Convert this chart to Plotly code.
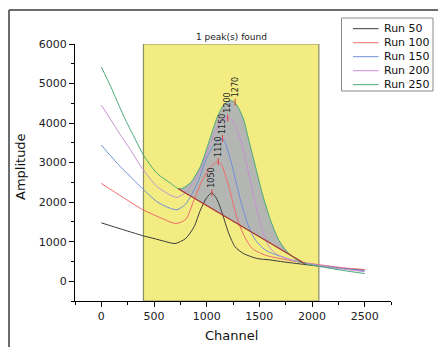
import plotly.graph_objects as go

# ---------------- data ----------------
run_names = ["Run 50", "Run 100", "Run 150", "Run 200", "Run 250"]

run50_x = [0, 100, 200, 300, 400, 500, 600, 700, 800, 880, 940, 1000, 1050, 1100, 1150, 1210, 1270, 1350, 1480, 1600, 1730, 1850, 1990, 2150, 2300, 2500]
run50_y = [1476, 1393, 1310, 1228, 1147, 1080, 1010, 954, 1080, 1375, 1797, 2110, 2236, 2060, 1700, 1207, 869, 700, 574, 540, 489, 450, 405, 360, 320, 285]

run100_x = [0, 200, 400, 550, 705, 800, 879, 958, 1037, 1080, 1110, 1140, 1175, 1211, 1259, 1306, 1369, 1433, 1559, 1780, 1950, 2150, 2300, 2500]
run100_y = [2473, 2130, 1800, 1620, 1460, 1560, 2050, 2557, 2894, 2990, 3025, 2960, 2700, 2388, 1881, 1460, 1080, 827, 658, 532, 460, 390, 340, 295]

run150_x = [0, 152, 278, 389, 531, 658, 720, 800, 911, 1005, 1084, 1150, 1227, 1290, 1338, 1400, 1464, 1559, 1717, 1900, 2100, 2300, 2500]
run150_y = [3443, 2980, 2640, 2347, 2008, 1840, 1810, 1950, 2473, 3147, 3500, 3610, 3063, 2388, 1881, 1375, 1038, 785, 615, 470, 390, 320, 265]

run200_x = [0, 152, 278, 389, 531, 658, 720, 800, 900, 1037, 1132, 1200, 1243, 1322, 1385, 1448, 1511, 1575, 1654, 1812, 2000, 2200, 2500]
run200_y = [4456, 3823, 3316, 2853, 2388, 2177, 2120, 2250, 2600, 3486, 4040, 4130, 4076, 3570, 2894, 2134, 1460, 954, 700, 532, 430, 340, 240]

run250_x = [0, 90, 215, 310, 400, 530, 660, 730, 770, 850, 942, 1000, 1068, 1100, 1150, 1200, 1240, 1280, 1320, 1353, 1400, 1464, 1528, 1606, 1685, 1765, 1860, 1930, 2100, 2300, 2500]
run250_y = [5420, 4919, 4160, 3653, 3190, 2726, 2473, 2340, 2350, 2500, 2911, 3350, 3906, 4150, 4413, 4545, 4565, 4480, 4290, 4076, 3570, 2894, 2220, 1544, 1038, 742, 532, 450, 360, 270, 195]

run_colors = ["#3a3a3a", "#f06a6a", "#6f8fd8", "#c892d2", "#4aaa78"]

baseline_x = [730, 1930]
baseline_y = [2340, 450]

peak_x = [1050, 1110, 1150, 1200, 1270]
peak_y = [2236, 3025, 3610, 4130, 4530]
peak_labels = ["1050", "1110", "1150", "1200", "1270"]

roi_x = [400, 2065]
x_range = [-250, 2750]
y_range = [-500, 6000]
title_text = "1 peak(s) found"
x_title = "Channel"
y_title = "Amplitude"

series_x = [run50_x, run100_x, run150_x, run200_x, run250_x]
series_y = [run50_y, run100_y, run150_y, run200_y, run250_y]

FONT = "DejaVu Sans"

# plot-area geometry (pixels) used for converting layout positions
L, R, T, B = 75, 391, 44, 301
W, H = R - L, B - T


def xp(px):
    return (px - L) / W


def yp(py):
    return (B - py) / H


fig = go.Figure()

# gray integrated area between Run 250 and baseline
gx, gy = [], []
for xv, yv in zip(run250_x, run250_y):
    if baseline_x[0] < xv < baseline_x[1]:
        gx.append(xv)
        gy.append(yv)
gx = [baseline_x[0]] + gx + [baseline_x[1]]
gy = [baseline_y[0]] + gy + [baseline_y[1]]
poly_x = gx + baseline_x[::-1]
poly_y = gy + baseline_y[::-1]
fig.add_trace(go.Scatter(x=poly_x, y=poly_y, mode="lines", fill="toself",
                         fillcolor="#b4b6b4", line=dict(width=0),
                         showlegend=False, hoverinfo="skip"))

for name, xs, ys, c in zip(run_names, series_x, series_y, run_colors):
    fig.add_trace(go.Scatter(x=xs, y=ys, mode="lines", name=name, showlegend=False,
                             line=dict(color=c, width=1, shape="spline", smoothing=0.7)))

fig.add_trace(go.Scatter(x=baseline_x, y=baseline_y, mode="lines",
                         line=dict(color="#a83232", width=1.2), showlegend=False))

fig.add_trace(go.Scatter(x=peak_x, y=peak_y, mode="markers", showlegend=False,
                         marker=dict(symbol="line-ns", size=5, line=dict(color="#e03c3c", width=1))))

for px_, py_, lab in zip(peak_x, peak_y, peak_labels):
    fig.add_annotation(x=px_, y=py_, text=lab, textangle=-90, showarrow=False,
                       xanchor="center", yanchor="bottom", yshift=3,
                       font=dict(family=FONT, size=8, color="#222"))

# yellow ROI
fig.add_shape(type="rect", xref="x", yref="y", x0=roi_x[0], x1=roi_x[1],
              y0=y_range[0], y1=y_range[1], fillcolor="#f2ec82",
              line=dict(color="#8e8c62", width=1.2), layer="below")

fig.add_annotation(x=(roi_x[0] + roi_x[1]) / 2, y=y_range[1], text=title_text,
                   showarrow=False, xanchor="center", yanchor="bottom", yshift=0,
                   font=dict(family=FONT, size=9, color="#222"))

# axis titles
fig.add_annotation(xref="paper", yref="paper", x=xp(20), y=yp(166), text=y_title,
                   textangle=-90, showarrow=False, xanchor="center", yanchor="middle",
                   font=dict(family=FONT, size=13, color="#111"))
fig.add_annotation(xref="paper", yref="paper", x=xp(231), y=yp(335), text=x_title,
                   showarrow=False, xanchor="center", yanchor="middle",
                   font=dict(family=FONT, size=13, color="#111"))

# page frame
fig.add_shape(type="line", xref="paper", yref="paper", x0=xp(9), x1=xp(440), y0=yp(10), y1=yp(10),
              line=dict(color="#3c3c3c", width=1.5))
fig.add_shape(type="line", xref="paper", yref="paper", x0=xp(9), x1=xp(9), y0=yp(10), y1=yp(350),
              line=dict(color="#3c3c3c", width=1.5))

# legend box (drawn manually)
fig.add_shape(type="rect", xref="paper", yref="paper", x0=xp(341.5), x1=xp(433), y0=yp(91), y1=yp(18),
              fillcolor="white", line=dict(color="#8a8a8a", width=1))
for i, (name, c) in enumerate(zip(run_names, run_colors)):
    cy = 28.7 + 14 * i
    fig.add_shape(type="line", xref="paper", yref="paper", x0=xp(353), x1=xp(378.5),
                  y0=yp(cy), y1=yp(cy), line=dict(color=c, width=1))
    fig.add_annotation(xref="paper", yref="paper", x=xp(382), y=yp(cy), text=name,
                       xanchor="left", yanchor="middle", showarrow=False,
                       font=dict(family=FONT, size=11, color="#111"))

axis_common = dict(showgrid=False, zeroline=False, showline=True, linecolor="#000", linewidth=1,
                   ticks="outside", ticklen=5, tickwidth=1, tickcolor="#000",
                   tickfont=dict(family=FONT, size=11, color="#222"))

fig.update_xaxes(range=x_range, dtick=500, tick0=0,
                 minor=dict(dtick=250, ticklen=3, ticks="outside", tickcolor="#000"),
                 **axis_common)
fig.update_yaxes(range=y_range, dtick=1000, tick0=0,
                 minor=dict(dtick=500, ticklen=3, ticks="outside", tickcolor="#000"),
                 **axis_common)

fig.update_layout(
    width=438, height=347,
    margin=dict(l=L, r=438 - R, t=T, b=347 - B, autoexpand=False),
    paper_bgcolor="white", plot_bgcolor="white",
    showlegend=False,
)

fig.write_html("out.html", config={"displayModeBar": False},
               post_script="document.body.style.margin='0';document.body.style.overflow='hidden';")
